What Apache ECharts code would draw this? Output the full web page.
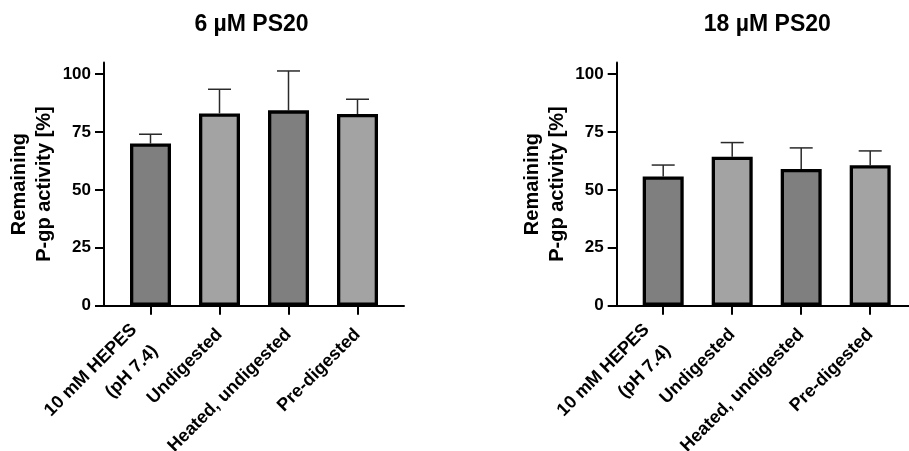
<!DOCTYPE html>
<html>
<head>
<meta charset="utf-8">
<script src="https://cdn.jsdelivr.net/npm/echarts@6/dist/echarts.min.js"></script>
<style>html,body{margin:0;padding:0;background:#fff;}#c{width:909px;height:451px;}</style>
</head>
<body>
<div id="c"></div>
<script>
const categories = ['10 mM HEPES\n(pH 7.4)', 'Undigested', 'Heated, undigested', 'Pre-digested'];
const titles = ['6 µM PS20', '18 µM PS20'];
const mean6 = [70.0, 83.0, 84.3, 82.7];
const sd6 = [4.0, 10.4, 17.0, 6.4];
const mean18 = [55.8, 64.3, 59.0, 60.6];
const sd18 = [4.9, 6.1, 9.1, 6.2];
const yTicks = [0, 25, 50, 75, 100];
const yName = 'Remaining\nP-gp activity [%]';

const FONT = "'Liberation Sans', Arial, sans-serif";
const barColors = ['#7f7f7f', '#a3a3a3', '#7f7f7f', '#a3a3a3'];
const panels = [
  { axisLeft: 104, titleX: 251.5, mean: mean6, sd: sd6 },
  { axisLeft: 616.7, titleX: 767.3, mean: mean18, sd: sd18 }
];
const TOP = 62.4, H = 243.3, YMAX = 105;

// multi-line labels are shifted down a little, as in the reference
const catData = categories.map(c => c.indexOf('\n') >= 0
  ? { value: c, textStyle: { padding: [36, 8.5, 0, 0] } }
  : c);

const grid = [], xAxis = [], yAxis = [], series = [], title = [];
panels.forEach((p, k) => {
  const g0 = 2 * k, g1 = 2 * k + 1;
  grid.push({ left: p.axisLeft, top: TOP, width: 300, height: H, containLabel: false, outerBoundsMode: 'none' });
  grid.push({ left: p.axisLeft + 12, top: TOP, width: 276, height: H, containLabel: false, outerBoundsMode: 'none' });
  title.push({
    text: titles[k], left: p.titleX, top: 13, textAlign: 'center', padding: 0,
    textStyle: { fontFamily: FONT, fontWeight: 'bold', fontSize: 23, color: '#000' }
  });
  xAxis.push({
    gridIndex: g0, type: 'value', min: 0, max: 1,
    axisLine: { show: true, lineStyle: { color: '#000', width: 2 } },
    axisTick: { show: false }, axisLabel: { show: false }, splitLine: { show: false }
  });
  xAxis.push({
    gridIndex: g1, type: 'category', data: catData,
    axisLine: { show: false },
    axisTick: { show: true, alignWithLabel: true, length: 9, lineStyle: { color: '#000', width: 2 } },
    axisLabel: {
      interval: 0, rotate: 45, margin: 26, fontFamily: FONT, fontWeight: 'bold',
      fontSize: 18, color: '#000', lineHeight: 30
    },
    splitLine: { show: false }
  });
  yAxis.push({
    gridIndex: g0, type: 'value', min: 0, max: YMAX,
    axisLine: { show: true, lineStyle: { color: '#000', width: 2 } },
    axisTick: { show: true, customValues: yTicks, length: 9, lineStyle: { color: '#000', width: 2 } },
    axisLabel: { customValues: yTicks, margin: 13, fontFamily: FONT, fontWeight: 'bold', fontSize: 17, color: '#000' },
    splitLine: { show: false },
    name: yName, nameLocation: 'middle', nameRotate: 90, nameGap: 47,
    nameTextStyle: { fontFamily: FONT, fontWeight: 'bold', fontSize: 20, color: '#000', lineHeight: 25, align: 'center' }
  });
  yAxis.push({ gridIndex: g1, type: 'value', min: 0, max: YMAX, show: false });

  series.push({
    type: 'custom', xAxisIndex: g1, yAxisIndex: g1, z: 1,
    data: p.mean.map((m, i) => [i, m, m + p.sd[i]]),
    renderItem: function (params, api) {
      const base = api.coord([api.value(0), api.value(1)]);
      const top = api.coord([api.value(0), api.value(2)]);
      const half = 11.5;
      const st = { stroke: '#2a2a2a', lineWidth: 1.5 };
      return {
        type: 'group', children: [
          { type: 'line', shape: { x1: base[0], y1: base[1], x2: top[0], y2: top[1] }, style: st },
          { type: 'line', shape: { x1: top[0] - half, y1: top[1], x2: top[0] + half, y2: top[1] }, style: st }
        ]
      };
    }
  });
  series.push({
    type: 'bar', xAxisIndex: g1, yAxisIndex: g1, z: 2, barWidth: 41,
    data: p.mean.map((m, i) => ({ value: m, itemStyle: { color: barColors[i] } })),
    itemStyle: { borderColor: '#000', borderWidth: 3.3 }
  });
});

const chart = echarts.init(document.getElementById('c'), null, { renderer: 'canvas' });
chart.setOption({ animation: false, backgroundColor: '#fff', title, grid, xAxis, yAxis, series });
</script>
</body>
</html>
